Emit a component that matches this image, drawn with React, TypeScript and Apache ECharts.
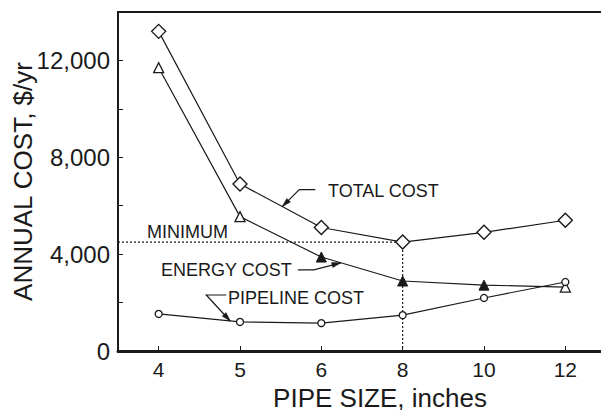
import React, { useEffect, useRef } from "react";
import * as echarts from "echarts";

const pipeSizes = ["4", "5", "6", "8", "10", "12"];
const totalCost = [13200, 6900, 5100, 4500, 4900, 5400];
const energyCost = [11700, 5550, 3880, 2890, 2720, 2640];
const pipelineCost = [1530, 1200, 1150, 1480, 2190, 2850];
const energyFilled = [false, false, true, true, true, false];
const minimumIndex = 3;
const yLabelStep = 4000;

const GRID_LEFT = 118;
const GRID_TOP = 12;
const GRID_W = 488;
const GRID_H = 339;

export default function App() {
  const ref = useRef<HTMLDivElement>(null);
  useEffect(() => {
    const chart = echarts.init(ref.current!, null, { renderer: "svg" });
    const font = "'Liberation Sans', Arial, Helvetica, sans-serif";
    const ink = "#1a1a1a";

    chart.setOption({
      animation: false,
      backgroundColor: "#ffffff",
      textStyle: { fontFamily: font, color: ink },
      grid: {
        left: GRID_LEFT,
        top: GRID_TOP,
        width: GRID_W,
        height: GRID_H,
        containLabel: false,
        outerBoundsMode: "none",
      },
      xAxis: [
        {
          type: "category",
          data: pipeSizes,
          boundaryGap: true,
          position: "bottom",
          name: "PIPE SIZE, inches",
          nameLocation: "middle",
          nameGap: 34,
          nameMoveOverlap: false,
          nameTextStyle: { fontSize: 26, color: ink, fontFamily: font, padding: [0, 0, 0, 36] },
          axisLine: { show: true, lineStyle: { color: ink, width: 3 } },
          axisTick: { show: true, inside: true, length: 5, alignWithLabel: true, lineStyle: { color: ink, width: 1 } },
          axisLabel: { fontSize: 21, color: ink, fontFamily: font, margin: 8 },
          splitLine: { show: false },
        },
        {
          type: "category",
          data: pipeSizes,
          position: "top",
          axisLine: { show: true, lineStyle: { color: ink, width: 2 } },
          axisTick: { show: false },
          axisLabel: { show: false },
          splitLine: { show: false },
        },
      ],
      yAxis: {
        type: "value",
        min: 0,
        max: 14000,
        interval: 2000,
        name: "ANNUAL COST, $/yr",
        nameLocation: "middle",
        nameGap: 82,
        nameMoveOverlap: false,
        nameTextStyle: { fontSize: 26, color: ink, fontFamily: font },
        axisLine: { show: true, lineStyle: { color: ink, width: 2 } },
        axisTick: { show: true, inside: true, length: 5, lineStyle: { color: ink, width: 1 } },
        axisLabel: {
          fontSize: 24,
          color: ink,
          fontFamily: font,
          margin: 8,
          formatter: (v: number) => (v % yLabelStep === 0 && v < 14000 ? v.toLocaleString("en-US") : ""),
        },
        splitLine: { show: false },
      },
      series: [
        {
          name: "TOTAL COST",
          type: "line",
          data: totalCost,
          symbol: "diamond",
          symbolSize: [14, 14],
          lineStyle: { color: ink, width: 1.2 },
          itemStyle: { color: "#ffffff", borderColor: ink, borderWidth: 1.4 },
          z: 3,
        },
        {
          name: "ENERGY COST",
          type: "line",
          data: energyCost.map((v, i) => ({
            value: v,
            itemStyle: energyFilled[i]
              ? { color: ink, borderColor: ink, borderWidth: 1 }
              : { color: "#ffffff", borderColor: ink, borderWidth: 1.3 },
          })),
          symbol: "triangle",
          symbolSize: 10,
          lineStyle: { color: ink, width: 1.2 },
          z: 3,
        },
        {
          name: "PIPELINE COST",
          type: "line",
          data: pipelineCost,
          symbol: "circle",
          symbolSize: 7,
          lineStyle: { color: ink, width: 1.2 },
          itemStyle: { color: "#ffffff", borderColor: ink, borderWidth: 1.3 },
          z: 3,
        },
      ],
    });

    const px = (i: number, v: number): number[] =>
      chart.convertToPixel({ xAxisIndex: 0, yAxisIndex: 0 }, [i, v]) as number[];
    const lerp = (a: number[], b: number[], t: number) => [a[0] + (b[0] - a[0]) * t, a[1] + (b[1] - a[1]) * t];
    const arrowHead = (tip: number[], from: number[]) => {
      const dx = tip[0] - from[0];
      const dy = tip[1] - from[1];
      const len = Math.sqrt(dx * dx + dy * dy) || 1;
      const ux = dx / len, uy = dy / len;
      const L = 9, W = 2.6;
      const bx = tip[0] - ux * L, by = tip[1] - uy * L;
      return {
        type: "polygon",
        shape: { points: [tip, [bx - uy * W, by + ux * W], [bx + uy * W, by - ux * W]] },
        style: { fill: ink, stroke: ink, lineWidth: 0.5 },
        z: 10,
      };
    };
    const leader = (pts: number[][]) => ({
      type: "polyline",
      shape: { points: pts },
      style: { stroke: ink, lineWidth: 1.2, fill: "none" },
      z: 10,
    });
    const label = (text: string, x: number, y: number) => ({
      type: "text",
      x,
      y,
      style: { text, fontSize: 18, fontFamily: font, fill: ink, textVerticalAlign: "middle", verticalAlign: "middle" },
      z: 10,
    });

    const pMin = px(minimumIndex, totalCost[minimumIndex]);
    const pBase = px(minimumIndex, 0);

    const tTip = lerp(px(1, totalCost[1]), px(2, totalCost[2]), 0.52);
    const tCorner = [tTip[0] + 17, tTip[1] - 17];
    const tEnd = [tTip[0] + 33, tTip[1] - 17];
    const eTip = lerp(px(2, energyCost[2]), px(3, energyCost[3]), 0.24);
    const eCorner = [eTip[0] - 27, eTip[1] + 7];
    const eEnd = [eTip[0] - 43, eTip[1] + 7];
    const pTip = lerp(px(0, pipelineCost[0]), px(1, pipelineCost[1]), 0.88);
    const pCorner = [pTip[0] - 24, pTip[1] - 26];
    const pEnd = [pTip[0] - 4, pTip[1] - 26];

    chart.setOption({
      graphic: [
        {
          type: "line",
          shape: { x1: GRID_LEFT, y1: pMin[1], x2: pMin[0], y2: pMin[1] },
          style: { stroke: ink, lineWidth: 1.2, lineDash: [2, 2] },
          z: 1,
        },
        {
          type: "line",
          shape: { x1: pMin[0], y1: pMin[1], x2: pBase[0], y2: pBase[1] },
          style: { stroke: ink, lineWidth: 1.2, lineDash: [2, 2] },
          z: 1,
        },
        leader([tEnd, tCorner, tTip]),
        arrowHead(tTip, tCorner),
        leader([eEnd, eCorner, eTip]),
        arrowHead(eTip, eCorner),
        leader([pEnd, pCorner, pTip]),
        arrowHead(pTip, pCorner),
        label("TOTAL COST", 328, 191),
        label("MINIMUM", 147, 232),
        label("ENERGY COST", 161, 270),
        label("PIPELINE COST", 228, 298),
      ],
    });

    return () => chart.dispose();
  }, []);
  return <div ref={ref} style={{ position: "absolute", left: 0, top: 0, width: 601, height: 410 }} />;
}
